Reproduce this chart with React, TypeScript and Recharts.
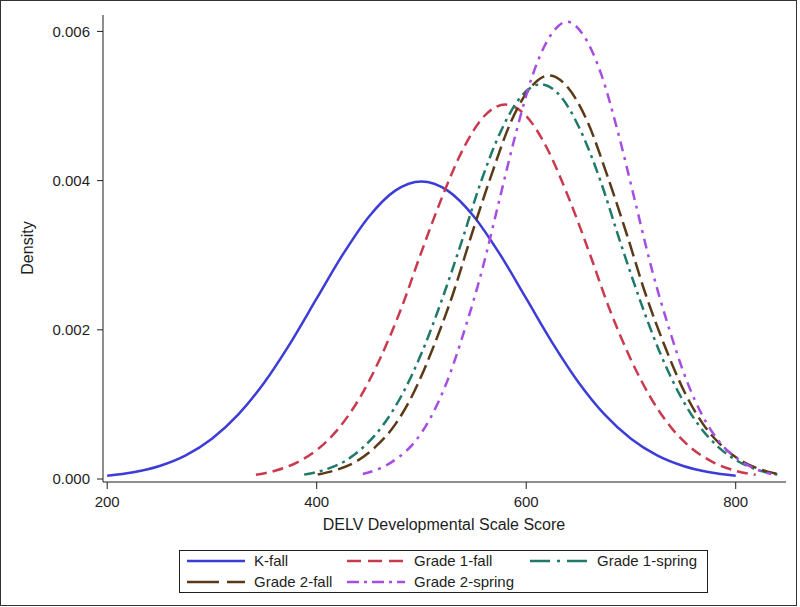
import React from 'react';
import { LineChart, Line, XAxis, YAxis, Label } from 'recharts';

// Density curves (score, density)
const kFallScore = [200, 225, 250, 275, 300, 325, 350, 375, 400, 425, 450, 475, 500, 525, 550, 575, 600, 625, 650, 675, 700, 725, 750, 775, 800];
const kFallDensity = [0.000044, 0.000091, 0.000175, 0.000317, 0.00054, 0.000863, 0.001295, 0.001826, 0.00242, 0.003011, 0.00352, 0.003866, 0.003989, 0.003866, 0.00352, 0.003011, 0.00242, 0.001826, 0.001295, 0.000863, 0.00054, 0.000317, 0.000175, 0.000091, 0.000044];

const grade1FallScore = [342, 361, 381, 401, 421, 441, 461, 481, 500, 520, 540, 560, 580, 600, 620, 640, 660, 679, 699, 719, 739, 759, 779, 799, 819];
const grade1FallDensity = [0.000056, 0.000114, 0.000221, 0.000399, 0.000679, 0.001086, 0.00163, 0.002298, 0.003045, 0.003789, 0.00443, 0.004866, 0.00502, 0.004866, 0.00443, 0.003789, 0.003045, 0.002298, 0.00163, 0.001086, 0.000679, 0.000399, 0.000221, 0.000114, 0.000056];

const grade1SpringScore = [388, 407, 426, 444, 463, 482, 501, 520, 539, 557, 576, 595, 614, 633, 652, 671, 689, 708, 727, 746, 765, 784, 803, 821, 840];
const grade1SpringDensity = [0.000059, 0.000121, 0.000232, 0.000421, 0.000716, 0.001144, 0.001717, 0.002422, 0.003209, 0.003993, 0.004668, 0.005127, 0.00529, 0.005127, 0.004668, 0.003993, 0.003209, 0.002422, 0.001717, 0.001144, 0.000716, 0.000421, 0.000232, 0.000121, 0.000059];

const grade2FallScore = [401, 419, 438, 456, 475, 493, 511, 530, 548, 567, 585, 604, 622, 640, 659, 677, 696, 714, 733, 751, 769, 788, 806, 825, 843];
const grade2FallDensity = [0.00006, 0.000123, 0.000238, 0.00043, 0.000732, 0.00117, 0.001756, 0.002477, 0.003281, 0.004084, 0.004774, 0.005244, 0.00541, 0.005244, 0.004774, 0.004084, 0.003281, 0.002477, 0.001756, 0.00117, 0.000732, 0.00043, 0.000238, 0.000123, 0.00006];

const grade2SpringScore = [444, 460, 476, 493, 509, 525, 541, 558, 574, 590, 606, 623, 639, 655, 672, 688, 704, 720, 737, 753, 769, 785, 802, 818, 834];
const grade2SpringDensity = [0.000068, 0.00014, 0.000269, 0.000488, 0.00083, 0.001326, 0.00199, 0.002807, 0.003718, 0.004627, 0.00541, 0.005941, 0.00613, 0.005941, 0.00541, 0.004627, 0.003718, 0.002807, 0.00199, 0.001326, 0.00083, 0.000488, 0.000269, 0.00014, 0.000068];

const xTicks = [200, 400, 600, 800];
const yTicks = [0, 0.002, 0.004, 0.006];

const FONT = '"Liberation Sans", Arial, sans-serif';
const INK = '#1e1e1e';

const toPoints = (score: number[], density: number[]) =>
  score.map((x, i) => ({ x, y: density[i] }));

const SERIES = [
  { name: 'K-fall', color: '#3c3cd8', dash: undefined, legendDash: undefined, data: toPoints(kFallScore, kFallDensity) },
  { name: 'Grade 1-fall', color: '#c93a4f', dash: '11 6', legendDash: '14 7', data: toPoints(grade1FallScore, grade1FallDensity) },
  { name: 'Grade 1-spring', color: '#1f7a6a', dash: '11 5 3 5', legendDash: '20 7 3 7', data: toPoints(grade1SpringScore, grade1SpringDensity) },
  { name: 'Grade 2-fall', color: '#5a3a17', dash: '15 6', legendDash: '32 8', data: toPoints(grade2FallScore, grade2FallDensity) },
  { name: 'Grade 2-spring', color: '#a64de4', dash: '10 6 3 6', legendDash: '12 5 3 5', data: toPoints(grade2SpringScore, grade2SpringDensity) },
];

// legend slots: [column x, row y]
const LEGEND_SLOTS = [
  [8, 11], [168, 11], [351, 11],
  [8, 32], [168, 32],
];

const ChartLegend = () => (
  <svg
    width={529}
    height={44}
    style={{ position: 'absolute', left: 179, top: 550, overflow: 'visible' }}
  >
    <rect x={0.5} y={0.5} width={528} height={42} fill="#fff" stroke={INK} strokeWidth={1} />
    {SERIES.map((s, i) => {
      const [lx, ly] = LEGEND_SLOTS[i];
      return (
        <g key={s.name}>
          <line x1={lx} y1={ly} x2={lx + 58} y2={ly} stroke={s.color} strokeWidth={2.5} strokeDasharray={s.legendDash} />
          <text x={lx + 67} y={ly + 5} fontSize={15} fontFamily={FONT} fill={INK}>
            {s.name}
          </text>
        </g>
      );
    })}
  </svg>
);

export default function App() {
  return (
    <div style={{ position: 'absolute', left: 0, top: 0, width: 800, height: 607, background: '#fff' }}>
      <LineChart
        width={800}
        height={607}
        margin={{ top: 15, right: 14, left: 0, bottom: 0 }}
        style={{ fontFamily: FONT }}
      >
        <XAxis
          dataKey="x"
          type="number"
          domain={[196, 848]}
          ticks={xTicks}
          allowDataOverflow
          height={125}
          tickSize={7}
          tickMargin={7}
          axisLine={{ stroke: INK }}
          tickLine={{ stroke: INK }}
          tick={{ fill: INK, fontSize: 15, fontFamily: FONT }}
        >
          <Label
            content={() => (
              <text x={444} y={530} textAnchor="middle" fontSize={16} fontFamily={FONT} fill={INK}>
                DELV Developmental Scale Score
              </text>
            )}
          />
        </XAxis>
        <XAxis
          xAxisId="top"
          orientation="top"
          type="number"
          domain={[196, 848]}
          height={0}
          tick={false}
          tickLine={false}
          axisLine={{ stroke: INK }}
        />
        <YAxis
          type="number"
          domain={[-0.00004, 0.00622]}
          ticks={yTicks}
          allowDataOverflow
          width={103}
          tickSize={6}
          tickMargin={7}
          tickFormatter={(v: number) => v.toFixed(3)}
          axisLine={{ stroke: INK }}
          tickLine={{ stroke: INK }}
          tick={{ fill: INK, fontSize: 15, fontFamily: FONT }}
        >
          <Label
            content={() => (
              <text
                x={27}
                y={248}
                transform="rotate(-90 27 248)"
                textAnchor="middle"
                dominantBaseline="central"
                fontSize={16}
                fontFamily={FONT}
                fill={INK}
              >
                Density
              </text>
            )}
          />
        </YAxis>
        <YAxis
          yAxisId="right"
          orientation="right"
          type="number"
          domain={[-0.00004, 0.00622]}
          width={0}
          tick={false}
          tickLine={false}
          axisLine={{ stroke: INK }}
        />
        {SERIES.map((s) => (
          <Line
            key={s.name}
            data={s.data}
            dataKey="y"
            name={s.name}
            type="monotone"
            stroke={s.color}
            strokeWidth={2.5}
            strokeDasharray={s.dash}
            dot={false}
            activeDot={false}
            isAnimationActive={false}
          />
        ))}
      </LineChart>
      <ChartLegend />
      <div
        style={{
          position: 'absolute',
          left: 0,
          top: 0,
          width: 797,
          height: 606,
          boxSizing: 'border-box',
          border: '1px solid #333',
          pointerEvents: 'none',
        }}
      />
    </div>
  );
}
